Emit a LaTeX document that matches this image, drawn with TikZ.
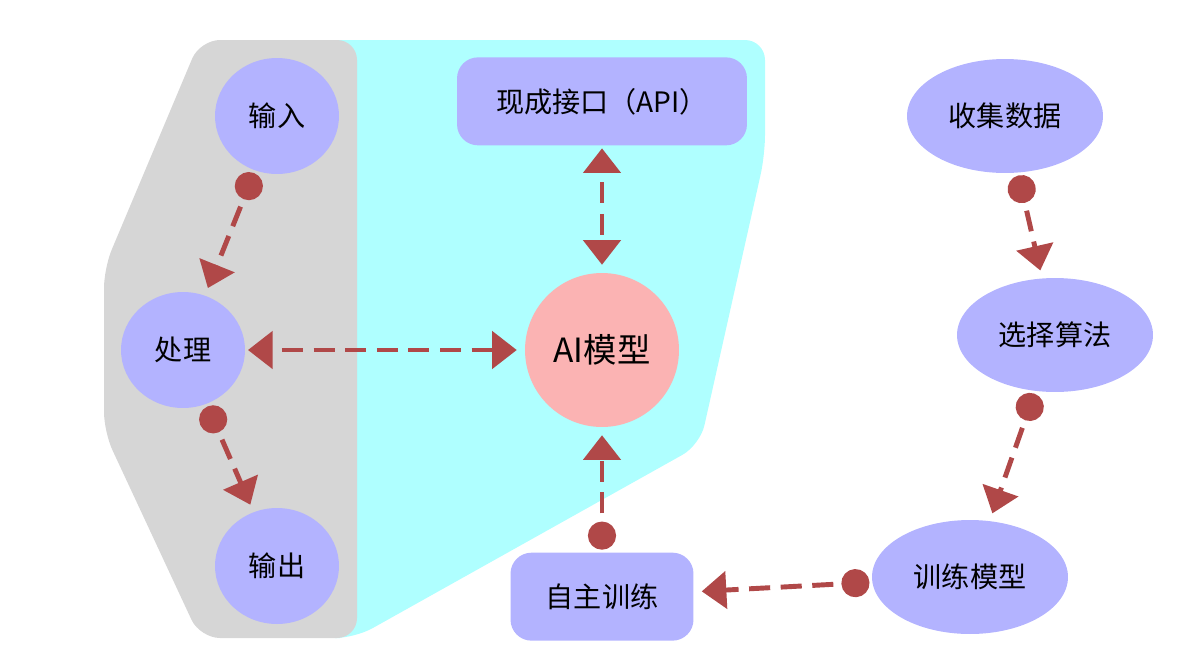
\documentclass[tikz,border=0pt]{standalone}
\usepackage{fontspec}
\setmainfont{Noto Sans CJK SC}
\usepackage{tikz}
\usetikzlibrary{shapes.geometric, arrows.meta, positioning}
\definecolor{aigray}{HTML}{D6D6D6}
\definecolor{aicyan}{HTML}{AFFFFF}
\definecolor{ailav}{HTML}{B3B3FF}
\definecolor{aipink}{HTML}{FBB3B3}
\definecolor{aired}{HTML}{B04848}

\begin{document}
\begin{tikzpicture}[
  x=0.02cm, y=-0.02cm,
  stage/.style={ellipse, fill=ailav, inner sep=0pt,
                minimum width=2.48cm, minimum height=2.32cm,
                font=\fontsize{16pt}{19pt}\selectfont},
  wide/.style={stage, minimum width=3.92cm, minimum height=2.28cm},
  box/.style={rectangle, fill=ailav, rounded corners=0.42cm,
              minimum width=5.8cm, minimum height=1.76cm,
              font=\fontsize{16pt}{19pt}\selectfont},
  core/.style={circle, fill=aipink, inner sep=0pt, minimum size=3.08cm,
               font=\fontsize{19pt}{22pt}\selectfont},
  link/.style={draw=aired, line width=2.8pt,
               dash pattern=on 12pt off 6pt, dash phase=12pt,
               shorten <=1.5pt, shorten >=4.5pt},
  oneway/.style={link, {Circle[length=16pt]}-{Triangle[length=14pt, width=21pt]}},
  twoway/.style={link, {Triangle[length=14pt, width=21pt]}-{Triangle[length=14pt, width=21pt]}}
]
  \useasboundingbox (0,0) rectangle (1189,663);

  % background panels
  \fill[aicyan, rounded corners=0.4cm]
    (320,40) -- (765,40) -- (765,155) -- (700,445) -- (355,638) -- (320,638) -- cycle;
  \fill[aigray, rounded corners=0.4cm]
    (357,40) -- (200,40) -- (104,268) -- (104,432) -- (200,638) -- (357,638) -- cycle;

  \node[stage] (in) at (277,116) {输入};
  \node[stage] (proc) at (183,350) {处理};
  \node[stage] (out) at (277,566) {输出};
  \node[core] (ai) at (602,350) {AI模型};
  \node[box, above=2.54cm of ai] (api) {现成接口（API）};
  \node[box, minimum width=3.66cm, below=2.5cm of ai] (self) {自主训练};
  \node[wide] (collect) at (1005,116) {收集数据};
  \node[wide] (algo) at (1055,335) {选择算法};
  \node[wide] (train) at (970,577) {训练模型};

  \draw[oneway] (in) -- (proc);
  \draw[oneway] (proc) -- (out);
  \draw[twoway] (proc) -- (ai);
  \draw[twoway] (api) -- (ai);
  \draw[oneway] (self) -- (ai);
  \draw[oneway] (train) -- (self);
  \draw[oneway] (collect) -- (algo);
  \draw[oneway] (algo) -- (train);
\end{tikzpicture}
\end{document}
